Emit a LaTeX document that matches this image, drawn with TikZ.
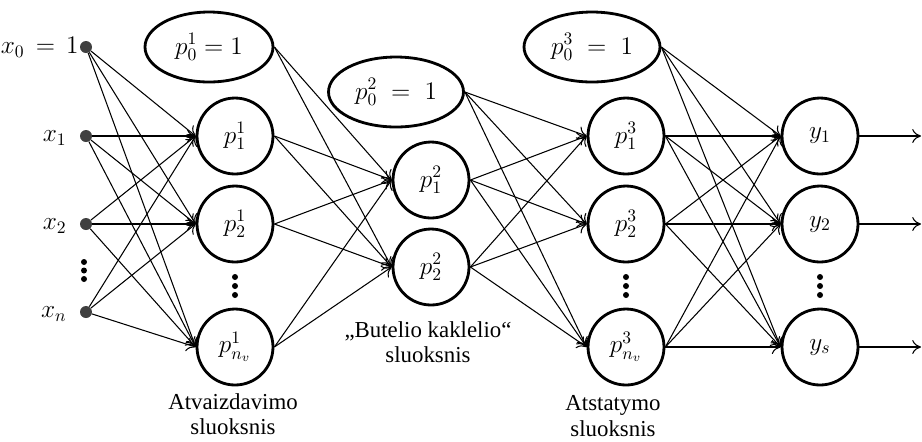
\documentclass[tikz,border=0pt]{standalone}
\usepackage{fontspec}
\setmainfont{Liberation Serif}
\usetikzlibrary{shapes.geometric,arrows.meta}

\begin{document}
\begin{tikzpicture}[x=0.02cm,y=-0.02cm,
        neuron/.style={circle, draw, line width=1.6pt, minimum size=1.52cm, inner sep=0pt, font=\fontsize{14}{16}\selectfont},
        bias/.style={ellipse, draw, line width=1.6pt, minimum height=1.4cm, inner sep=0pt, font=\fontsize{14}{16}\selectfont},
        input/.style={circle, fill=black!75, minimum size=0.24cm, inner sep=0pt},
        conn/.style={line width=0.6pt, -{To[length=5pt,width=8pt]}},
        inlabel/.style={anchor=east, inner sep=0pt, font=\fontsize{14}{16}\selectfont},
        caption/.style={align=center, font=\fontsize{13}{14.5}\selectfont}]

        \useasboundingbox (0,0) rectangle (922,441);

        % inputs
        \node[input] (x0) at (86,47) {};
        \node[input] (x1) at (86,136) {};
        \node[input] (x2) at (86,224) {};
        \node[input] (xn) at (86,312) {};
        \node[inlabel] (lx0) at (79,47) {$x_0\,=\,1$};
        \node[inlabel] (lx1) at (67,138) {$x_1$};
        \node[inlabel] (lx2) at (67,226) {$x_2$};
        \node[inlabel] (lxn) at (67,314) {$x_n$};

        % mapping layer
        \node[bias, minimum width=2.56cm] (p10) at (209,47) {$p_0^1 = 1$};
        \node[neuron] (p11) at (235,136) {$p_1^1$};
        \node[neuron] (p12) at (235,224) {$p_2^1$};
        \node[neuron] (p1n) at (235,347) {$p_{n_v}^1$};

        % bottleneck layer
        \node[bias, minimum width=2.7cm] (p20) at (396,92) {$p_0^2\;=\;1$};
        \node[neuron] (p21) at (431,180) {$p_1^2$};
        \node[neuron] (p22) at (431,267) {$p_2^2$};

        % demapping layer
        \node[bias, minimum width=2.72cm] (p30) at (592,47) {$p_0^3\;=\;1$};
        \node[neuron] (p31) at (626,136) {$p_1^3$};
        \node[neuron] (p32) at (626,224) {$p_2^3$};
        \node[neuron] (p3n) at (626,347) {$p_{n_v}^3$};

        % outputs
        \node[neuron] (y1) at (820,136) {$y_1$};
        \node[neuron] (y2) at (820,224) {$y_2$};
        \node[neuron] (ys) at (820,347) {$y_s$};
        \coordinate (o1) at (921,136);
        \coordinate (o2) at (921,224);
        \coordinate (os) at (921,347);

        % vertical dots
        \foreach \k in {0,1,2} {
            \fill (84,262+8.5*\k) circle (3);
            \fill (235,277+9*\k) circle (3);
            \fill (626,277+9*\k) circle (3);
            \fill (820,277+9*\k) circle (3);
        }

        % connections
        \foreach \s in {x0,x1,x2,xn}
            \foreach \t in {p11,p12,p1n}
                \draw[conn] (\s) -- (\t.west);
        \foreach \s in {p10,p11,p12,p1n}
            \foreach \t in {p21,p22}
                \draw[conn] (\s.east) -- (\t.west);
        \foreach \s in {p20,p21,p22}
            \foreach \t in {p31,p32,p3n}
                \draw[conn] (\s.east) -- (\t.west);
        \foreach \s in {p30,p31,p32,p3n}
            \foreach \t in {y1,y2,ys}
                \draw[conn] (\s.east) -- (\t.west);
        \draw[conn] (y1.east) -- (o1);
        \draw[conn] (y2.east) -- (o2);
        \draw[conn] (ys.east) -- (os);

        % layer names
        \node[caption] (c1) at (233,414) {Atvaizdavimo\\sluoksnis};
        \node[caption] (c2) at (428,342) {„Butelio kaklelio“\\sluoksnis};
        \node[caption] (c3) at (613,416) {Atstatymo\\sluoksnis};

\end{tikzpicture}
\end{document}
